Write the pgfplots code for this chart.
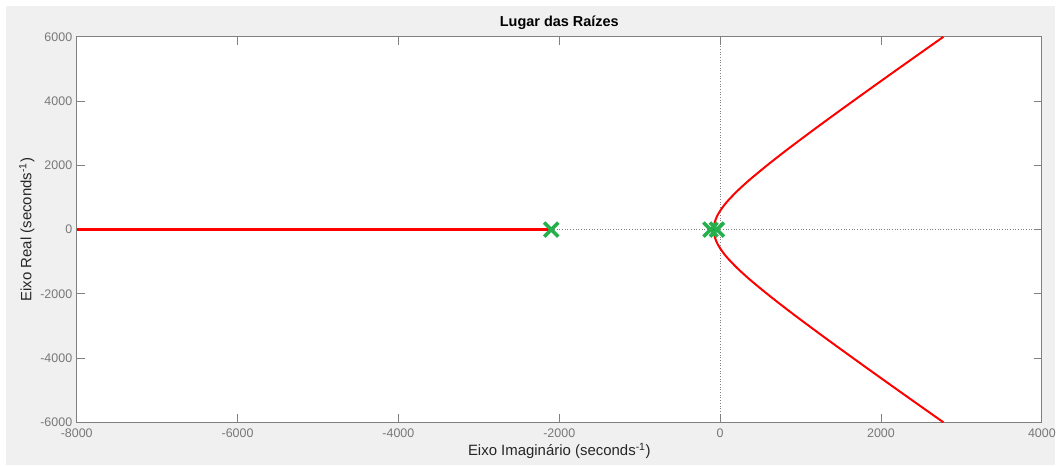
\documentclass[border=0pt]{standalone}
\usepackage{pgfplots}
\pgfplotsset{compat=1.18}
\usepackage{fontspec}
\setmainfont{Liberation Sans}
\definecolor{figbg}{RGB}{240,240,240}
\definecolor{axgray}{RGB}{128,128,128}
\definecolor{tickgray}{RGB}{120,120,120}
\definecolor{mgreen}{RGB}{38,176,76}
\begin{document}
\begin{tikzpicture}
\fill[white] (0,0) rectangle (1059bp,467bp);
\fill[figbg] (6bp,0) rectangle (1059bp,461bp);
\begin{axis}[
  at={(77bp,43bp)}, anchor=south west,
  scale only axis, width=969bp, height=387bp,
  xmin=-8000, xmax=4000, ymin=-6000, ymax=6000,
  xtick={-8000,-6000,...,4000}, ytick={-6000,-4000,...,6000},
  axis background/.style={fill=white},
  axis line style={axgray, line width=0.8bp},
  every tick/.style={axgray, line width=0.8bp},
  major tick length=8bp,
  tick align=inside,
  /pgf/number format/assume math mode=true,
  /pgf/number format/1000 sep={},
  ticklabel style={font=\fontsize{12.5bp}{14bp}\selectfont, text=tickgray},
  xticklabel style={yshift=-3bp},
  yticklabel style={xshift=-1bp},
  xlabel={Eixo Imaginário (seconds\textsuperscript{-1})},
  ylabel={Eixo Real (seconds\textsuperscript{-1})},
  label style={font=\fontsize{15bp}{17bp}\selectfont, text=black!85},
  xlabel style={yshift=1bp},
  ylabel style={yshift=-1bp},
  title={Lugar das Raízes},
  title style={font=\bfseries\fontsize{14.5bp}{16bp}\selectfont, yshift=-2bp},
  clip=true,
]
\addplot[axgray, dotted, line width=0.7bp, forget plot] coordinates {(0,-6000) (0,6000)};
\addplot[axgray, dotted, line width=0.7bp, forget plot] coordinates {(-8000,0) (4000,0)};
% real-axis branch to the left
\addplot[red, line width=2.6bp] coordinates {(-2100,0) (-8000,0)};
% short real-axis segment between poles
\addplot[red, line width=2bp] coordinates {(-120,0) (-40,0)};
% upper branch
\addplot[red, line width=2bp, smooth] coordinates {
(-79.7,0) (-70,197.7) (-50,349.7) (-25,479.2) (0,583.8) (50,757.8) (100,907.1)
(200,1168.2) (300,1402.4) (400,1621.4) (600,2032.9) (800,2424.2) (1000,2803.7)
(1250,3267.8) (1500,3724.3) (1750,4175.9) (2000,4623.9) (2250,5069.4)
(2500,5512.8) (2776,6000)};
% lower branch
\addplot[red, line width=2bp, smooth] coordinates {
(-79.7,0) (-70,-197.7) (-50,-349.7) (-25,-479.2) (0,-583.8) (50,-757.8) (100,-907.1)
(200,-1168.2) (300,-1402.4) (400,-1621.4) (600,-2032.9) (800,-2424.2) (1000,-2803.7)
(1250,-3267.8) (1500,-3724.3) (1750,-4175.9) (2000,-4623.9) (2250,-5069.4)
(2500,-5512.8) (2776,-6000)};
% poles
\addplot[only marks, mark=x, mark size=10bp, mgreen, line width=3.6bp] coordinates {(-2100,0) (-120,0) (-40,0)};
\end{axis}
\end{tikzpicture}
\end{document}
